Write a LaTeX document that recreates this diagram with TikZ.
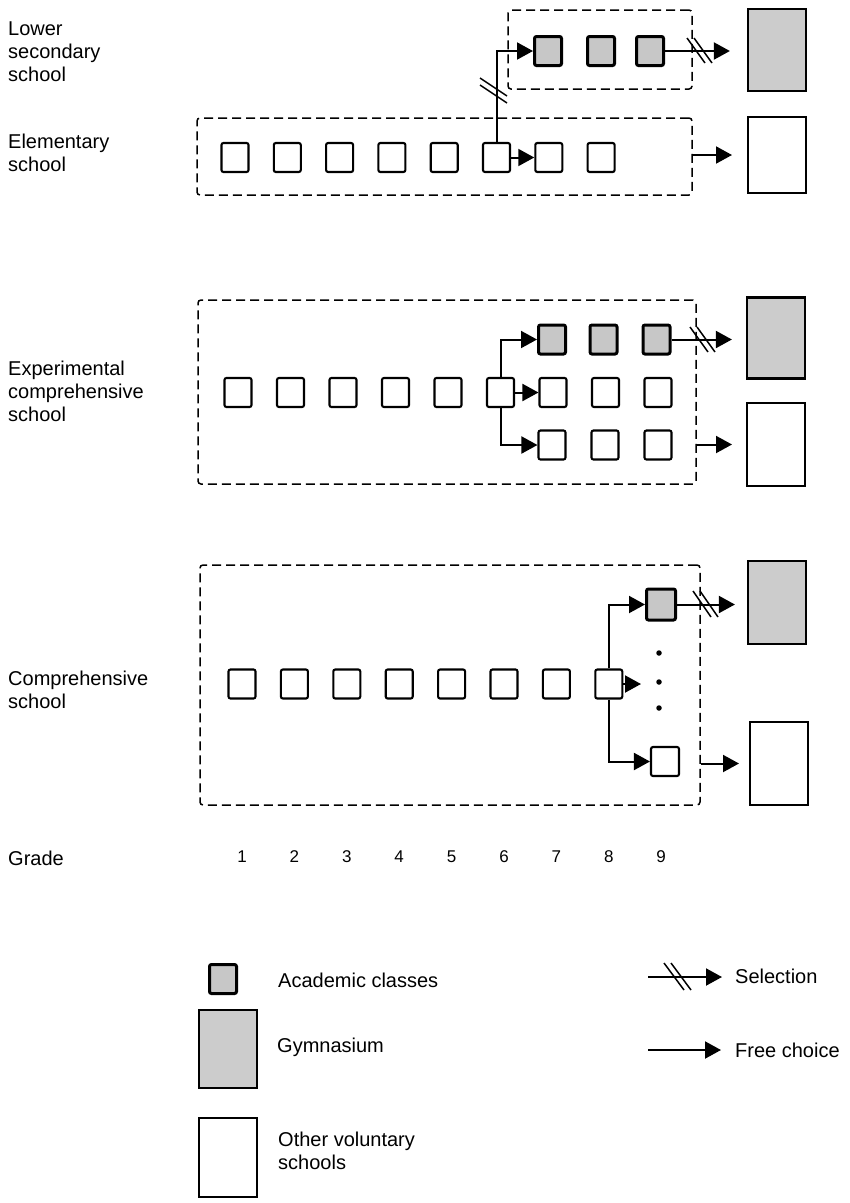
\documentclass[tikz,border=0pt]{standalone}
\usepackage{fontspec}
\setmainfont{Liberation Sans}
\usetikzlibrary{arrows.meta,calc}
\begin{document}
\begin{tikzpicture}[x=1pt,y=-1pt,
  lbl/.style={anchor=west,align=left,inner sep=0pt,font=\fontsize{20}{23}\selectfont},
  num/.style={inner sep=0pt,font=\fontsize{17}{20}\selectfont},
  cls/.style={draw,line width=2.1pt,rounded corners=2pt,minimum width=27pt,minimum height=29pt,inner sep=0pt},
  acad/.style={cls,fill=black!22,line width=3pt},
  gymbox/.style={draw,line width=2.2pt,fill=black!20,minimum width=58pt,minimum height=82pt,inner sep=0pt},
  othbox/.style={draw,line width=2pt,minimum width=58pt,minimum height=80pt,inner sep=0pt},
  grp/.style={draw,line width=1.5pt,dash pattern=on 9pt off 5pt,rounded corners=3pt,inner sep=0pt},
  conn/.style={line width=2pt,-{Triangle[length=16pt,width=17pt]}},
  sl/.style={line width=1.5pt},
  dotnode/.style={circle,fill,inner sep=0pt,minimum size=5.5pt}]
\useasboundingbox (0,0) rectangle (850,1203);

% ---------- labels ----------
\node[lbl] (lLS) at (8,52) {Lower\\secondary\\school};
\node[lbl] (lEL) at (8,153) {Elementary\\school};
\node[lbl] (lEX) at (8,391) {Experimental\\comprehensive\\school};
\node[lbl] (lCO) at (8,690) {Comprehensive\\school};
\node[lbl] (lGR) at (8,858) {Grade};

% ---------- top: lower secondary + elementary ----------
\node[grp,minimum width=184pt,minimum height=79pt] (gLS) at (600,49.5) {};
\node[grp,minimum width=495pt,minimum height=77pt] (gEL) at (444.5,156.5) {};
\foreach \i/\x in {1/548,2/601,3/650} \node[acad] (a\i) at (\x,51) {};
\foreach \i in {1,...,8} \node[cls] (e\i) at ({235+52.3*(\i-1)},157.5) {};
\node[gymbox] (gT) at (777,50) {};
\node[othbox,minimum height=76pt] (oT) at (777,155) {};
\draw[conn] (e6) -- (e7);
\draw[conn] (e6.north) |- (a1.west);
\draw[sl] (480,78) -- (507,96);
\draw[sl] (480,85) -- (507,103);
\draw[conn] (a3.east) -- ([xshift=-17pt]gT.west |- a3.east);
\draw[sl] (687,38) -- (705,63);
\draw[sl] (694,38) -- (712,63);
\draw[conn] (gEL.east |- oT.west) -- ([xshift=-15pt]oT.west);

% ---------- experimental comprehensive ----------
\node[grp,minimum width=498pt,minimum height=184pt] (gEX) at (447,392) {};
\foreach \i in {1,...,9} \node[cls] (x\i) at ({238+52.5*(\i-1)},392.5) {};
\foreach \i/\x in {1/552,2/603.5,3/656.5} \node[acad] (xa\i) at (\x,339.5) {};
\foreach \i/\x in {1/552,2/605,3/658} \node[cls] (xb\i) at (\x,445) {};
\node[gymbox,minimum height=81pt] (gX) at (776,338) {};
\node[othbox,minimum height=83pt] (oX) at (776,444.5) {};
\draw[conn] (x6) -- (x7);
\draw[conn] (x6.north) |- (xa1.west);
\draw[conn] (x6.south) |- (xb1.west);
\draw[conn] (xa3.east) -- ([xshift=-14pt]gX.west |- xa3.east);
\draw[sl] (690,327) -- (708,352);
\draw[sl] (697,327) -- (715,352);
\draw[conn] (gEX.east |- oX.west) -- ([xshift=-14pt]oX.west);

% ---------- comprehensive ----------
\node[grp,minimum width=500pt,minimum height=240pt] (gCO) at (450,685) {};
\foreach \i in {1,...,8} \node[cls] (c\i) at ({242+52.4*(\i-1)},684) {};
\node[acad,minimum width=29pt,minimum height=31pt] (ca) at (661,604.5) {};
\node[cls,minimum width=28pt] (cb) at (665,761.5) {};
\coordinate (cm) at (641,684);
\node[dotnode] (d1) at (659,653) {};
\node[dotnode] (d2) at (659,682) {};
\node[dotnode] (d3) at (659,708) {};
\node[gymbox,minimum height=83pt] (gC) at (777,602.5) {};
\node[othbox,minimum height=83pt] (oC) at (779,763.5) {};
\draw[conn] (c8) -- (cm);
\draw[conn] (c8.north) |- (ca.west);
\draw[conn] (c8.south) |- (cb.west);
\draw[conn] (ca.east) -- ([xshift=-12pt]gC.west |- ca.east);
\draw[sl] (693,591) -- (711,617);
\draw[sl] (700,591) -- (718,617);
\draw[conn] (gCO.east |- oC.west) -- ([xshift=-10pt]oC.west);

% ---------- grade numbers ----------
\foreach \i in {1,...,9} \node[num] (n\i) at ({242+52.4*(\i-1)},857) {\i};

% ---------- legend ----------
\node[acad] (LA) at (223,979) {};
\node[gymbox,minimum height=78pt] (LG) at (228,1049) {};
\node[othbox,minimum height=79pt] (LO) at (228,1157.5) {};
\node[lbl] (tA) at (278,980) {Academic classes};
\node[lbl] (tG) at (277,1047) {Gymnasium};
\node[lbl] (tO) at (278,1151) {Other voluntary\\schools};
\coordinate (s0) at (648,977);
\coordinate (s1) at (722,977);
\draw[conn] (s0) -- (s1);
\draw[sl] (664,963) -- (684,990);
\draw[sl] (671,963) -- (691,990);
\node[lbl] (tS) at (735,976) {Selection};
\coordinate (f0) at (648,1050);
\coordinate (f1) at (721,1050);
\draw[conn] (f0) -- (f1);
\node[lbl] (tF) at (735,1050) {Free choice};
\end{tikzpicture}
\end{document}
